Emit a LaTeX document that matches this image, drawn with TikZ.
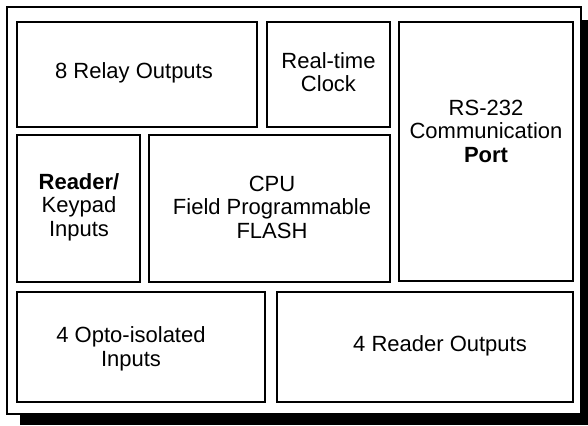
\documentclass[tikz,border=0pt]{standalone}
\usepackage{fontspec}
\setmainfont{Liberation Sans}
\begin{document}
\begin{tikzpicture}[x=1pt,y=-1pt,
  blk/.style={draw=black,line width=2.6pt,fill=white,inner sep=0pt,rectangle},
  lbl/.style={align=center,inner sep=0pt,font=\fontsize{22}{23.5}\selectfont}]
\useasboundingbox (0,0) rectangle (588,425);
\fill[black] (20,20) rectangle (588,425);
\node[draw=black,line width=2pt,fill=white,inner sep=0pt,minimum width=574pt,minimum height=407pt] (outer) at (294,210.5) {};
\node[blk,minimum width=240pt,minimum height=105pt] (relay) at (137,74.5) {};
\node[blk,minimum width=123pt,minimum height=105pt] (clock) at (328.5,74.5) {};
\node[blk,minimum width=174pt,minimum height=259pt] (rs) at (486,151.5) {};
\node[blk,minimum width=123pt,minimum height=147pt] (reader) at (78.5,208.5) {};
\node[blk,minimum width=241pt,minimum height=147pt] (cpu) at (269.5,208.5) {};
\node[blk,minimum width=248pt,minimum height=110pt] (opto) at (141,347) {};
\node[blk,minimum width=296pt,minimum height=110pt] (rout) at (425,347) {};
\node[lbl] (trelay) at (134,73) {8 Relay Outputs};
\node[lbl] (tclock) at (328.5,72) {Real-time\\Clock};
\node[lbl] (trs) at (486,131) {RS-232\\Communication\\\textbf{Port}};
\node[lbl] (treader) at (79,207) {\textbf{Reader/}\\Keypad\\Inputs};
\node[lbl] (tcpu) at (272,207) {CPU\\Field Programmable\\FLASH};
\node[lbl] (topto) at (131,349) {4 Opto-isolated\\Inputs};
\node[lbl] (trout) at (440,346) {4 Reader Outputs};
\end{tikzpicture}
\end{document}
